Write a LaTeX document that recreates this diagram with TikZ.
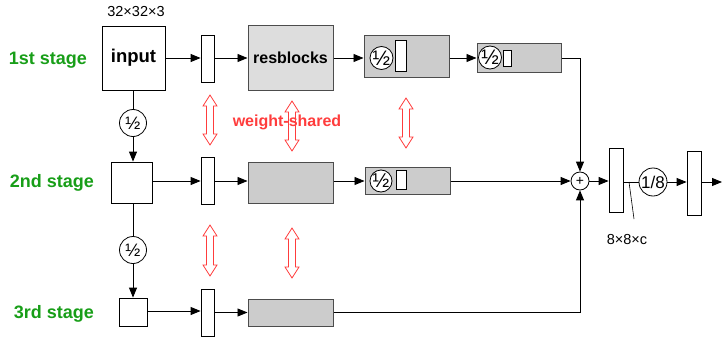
\documentclass[tikz,border=0pt]{standalone}
\usepackage{fontspec}
\setmainfont{Liberation Sans}
\usetikzlibrary{arrows.meta}
\definecolor{stagegreen}{RGB}{24,158,24}
\definecolor{wsred}{RGB}{255,60,60}
\definecolor{boxgray}{RGB}{204,204,204}
\definecolor{lightgray}{RGB}{221,221,221}
\newcommand\wsarrow[3]{%
  \draw[wsred, line width=0.8pt, line join=miter]
    (#1,#2) -- (#1+7,#2+11) -- (#1+3.5,#2+11) -- (#1+3.5,#3-11) -- (#1+7,#3-11)
    -- (#1,#3) -- (#1-7,#3-11) -- (#1-3.5,#3-11) -- (#1-3.5,#2+11) -- (#1-7,#2+11) -- cycle;}
\begin{document}
\begin{tikzpicture}[x=1pt,y=-1pt,
  blk/.style={draw, line width=0.8pt, inner sep=0pt, fill=white},
  gbox/.style={draw=black!70, line width=1pt, inner sep=0pt, fill=boxgray},
  halfc/.style={circle, draw, line width=0.8pt, fill=white, inner sep=0pt},
  arr/.style={-{Triangle[length=10pt,width=8pt]}, line width=0.9pt},
  ln/.style={line width=0.9pt},
  stage/.style={text=stagegreen, font=\bfseries\fontsize{18}{20}\selectfont},
  dimtxt/.style={font=\fontsize{14.5}{16}\selectfont}]
\useasboundingbox (0,0) rectangle (722,337);

% stage labels
\node[stage] (l1) at (48,60) {1st stage};
\node[stage] (l2) at (52,183) {2nd stage};
\node[stage] (l3) at (54,314) {3rd stage};

\node[dimtxt] (dim1) at (136,12) {32×32×3};

% row 1
\node[blk, minimum width=63, minimum height=64, font=\bfseries\fontsize{18.5}{20}\selectfont] (in) at (133.5,58) {input};
\node[blk, minimum width=13, minimum height=47] (s1) at (207.5,58.5) {};
\node[gbox, fill=lightgray, minimum width=85, minimum height=64, font=\bfseries\fontsize{16}{18}\selectfont] (rb) at (290.5,58) {resblocks};
\node[gbox, minimum width=85, minimum height=41] (hA) at (406.5,56.5) {};
\node[halfc, minimum size=23, font=\fontsize{21}{22}\selectfont] (cA) at (381.5,58) {½};
\node[blk, minimum width=11, minimum height=31] (rA) at (400.5,56) {};
\node[gbox, minimum width=84, minimum height=28] (hB) at (519,58) {};
\node[halfc, minimum size=23, font=\fontsize{21}{22}\selectfont] (cB) at (490,57.5) {½};
\node[blk, minimum width=8.5, minimum height=16] (rB) at (507.5,58) {};

% row 2
\node[halfc, minimum size=27, font=\fontsize{18}{20}\selectfont] (p1) at (133,123) {½};
\node[blk, minimum width=41, minimum height=41] (b2) at (131.5,182.5) {};
\node[blk, minimum width=13, minimum height=47] (s2) at (207.5,180.5) {};
\node[gbox, minimum width=85, minimum height=41] (g2) at (290.5,182.5) {};
\node[gbox, minimum width=85, minimum height=27] (hC) at (407.5,180.5) {};
\node[halfc, minimum size=22, font=\fontsize{20}{22}\selectfont] (cC) at (381,181) {½};
\node[blk, minimum width=10, minimum height=19] (rC) at (401,179.5) {};

% row 3
\node[halfc, minimum size=27, font=\fontsize{18}{20}\selectfont] (p2) at (133,250) {½};
\node[blk, minimum width=28, minimum height=28] (b3) at (133,312) {};
\node[blk, minimum width=13, minimum height=47] (s3) at (207.5,312.5) {};
\node[gbox, minimum width=85, minimum height=27] (g3) at (290.5,312.5) {};

% merge and output
\node[halfc, minimum size=18, font=\fontsize{14}{16}\selectfont] (plus) at (580,181) {+};
\node[blk, minimum width=14, minimum height=64] (f1) at (616,180) {};
\node[halfc, minimum size=28, font=\fontsize{17}{18}\selectfont] (c8) at (653,182) {1/8};
\node[blk, minimum width=14, minimum height=64] (f2) at (694,183) {};
\coordinate (out) at (722,182);
\coordinate (ann1) at (629,182);
\coordinate (ann2) at (634,219);
\node[dimtxt] (dim2) at (627,240) {8×8×c};

% connectors row 1
\draw[arr] (in.east |- 0,58) -- (s1.west |- 0,58);
\draw[arr] (s1.east |- 0,58) -- (rb.west |- 0,58);
\draw[arr] (rb.east |- 0,58) -- (hA.west |- 0,58);
\draw[arr] (hA.east |- hB.west) -- (hB.west);
\draw[arr] (hB.east) -| (plus.north);
% vertical
\draw[ln] (in.south -| p1) -- (p1.north);
\draw[arr] (p1.south) -- (p1.south |- b2.north);
\draw[ln] (b2.south -| p2) -- (p2.north);
\draw[arr] (p2.south) -- (b3.north);
% row 2
\draw[arr] (b2.east |- 0,181) -- (s2.west |- 0,181);
\draw[arr] (s2.east |- 0,181) -- (g2.west |- 0,181);
\draw[arr] (g2.east |- 0,181) -- (hC.west |- 0,181);
\draw[arr] (hC.east |- plus.west) -- (plus.west);
% row 3
\draw[arr] (b3.east |- 0,311) -- (s3.west |- 0,311);
\draw[arr] (s3.east |- 0,312.5) -- (g3.west);
\draw[arr] (g3.east) -| (plus.south);
% output
\draw[arr] (plus.east) -- (f1.west |- plus.east);
\draw[ln] (f1.east |- c8.west) -- (c8.west);
\draw[arr] (c8.east) -- (f2.west |- c8.east);
\draw[arr] (f2.east |- out) -- (out);
\draw[line width=0.6pt] (ann1) -- (ann2);

% weight-shared
\node[text=wsred, font=\bfseries\fontsize{16}{18}\selectfont] (ws) at (287,122) {weight-shared};
\wsarrow{210}{95}{145}
\wsarrow{292}{101}{151}
\wsarrow{406}{98}{148}
\wsarrow{210}{225}{276}
\wsarrow{292}{228}{278}
\end{tikzpicture}
\end{document}
